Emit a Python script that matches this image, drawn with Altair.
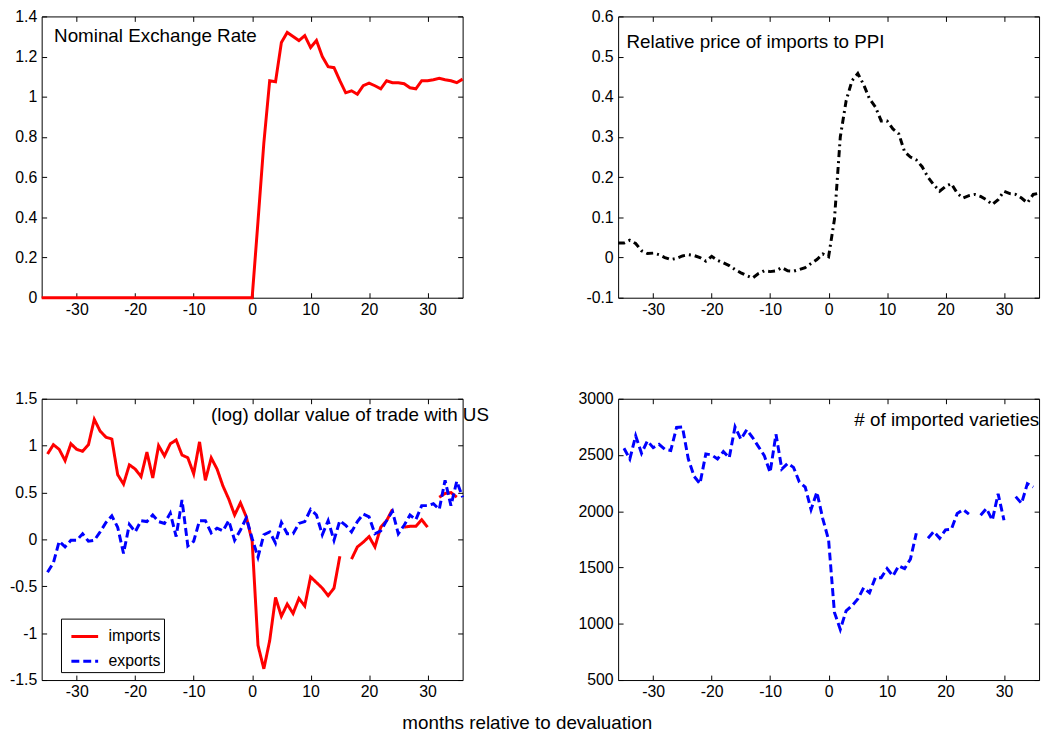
import altair as alt
import pandas as pd

FONT = "Liberation Sans"
W, H = 425, 284
ROW_GAP, COL_GAP = 102, 157

months = list(range(-36, 37))

nominal_rate = [
    0.0, 0.0, 0.0, 0.0, 0.0, 0.0, 0.0, 0.0, 0.0, 0.0, 0.0, 0.0, 0.0, 0.0, 0.0, 0.0,
    0.0, 0.0, 0.0, 0.0, 0.0, 0.0, 0.0, 0.0, 0.0, 0.0, 0.0, 0.0, 0.0, 0.0, 0.0, 0.0,
    0.0, 0.0, 0.0, 0.0, 0.0,
    0.38, 0.77, 1.08, 1.075, 1.27, 1.32, 1.30, 1.28, 1.305, 1.245, 1.28, 1.20, 1.15,
    1.145, 1.08, 1.02, 1.03, 1.013, 1.055, 1.068, 1.055, 1.04, 1.08, 1.07, 1.07,
    1.065, 1.045, 1.04, 1.08, 1.08, 1.085, 1.092, 1.085, 1.08, 1.07, 1.088,
]

rel_price = [
    0.036, 0.036, 0.043, 0.035, 0.017, 0.010, 0.011, 0.007, 0.000, -0.005, -0.002,
    0.004, 0.007, 0.005, 0.000, -0.009, 0.003, -0.007, -0.013, -0.020, -0.030,
    -0.038, -0.045, -0.051, -0.040, -0.033, -0.035, -0.033, -0.025, -0.033, -0.034,
    -0.030, -0.025, -0.015, -0.005, 0.009, 0.002,
    0.095, 0.30, 0.39, 0.44, 0.458, 0.43, 0.395, 0.375, 0.34, 0.34, 0.32, 0.308,
    0.263, 0.25, 0.243, 0.226, 0.20, 0.181, 0.165, 0.177, 0.184, 0.16, 0.148, 0.154,
    0.157, 0.152, 0.144, 0.132, 0.144, 0.165, 0.159, 0.157, 0.148, 0.136, 0.157, 0.16,
]

imports = [
    None, 0.91, 1.01, 0.96, 0.84, 1.02, 0.96, 0.94, 1.01, 1.28, 1.155, 1.09, 1.07,
    0.69, 0.59, 0.795, 0.75, 0.67, 0.93, 0.655, 1.0, 0.89, 1.02, 1.06, 0.90, 0.87,
    0.70, 1.04, 0.63, 0.87, 0.75, 0.57, 0.43, 0.26, 0.39, 0.24, -0.02,
    -1.13, -1.38, -1.08, -0.62, -0.82, -0.69, -0.79, -0.63, -0.71, -0.40, -0.46,
    -0.52, -0.60, -0.52, -0.18, None, -0.21, -0.08, -0.03, 0.03, -0.08, 0.13, 0.20,
    0.32, None, 0.13, 0.14, 0.14, 0.21, 0.13, None, 0.45, 0.49, 0.50, 0.45, None,
]

exports = [
    None, -0.35, -0.25, -0.02, -0.08, -0.01, -0.01, 0.06, -0.02, -0.01, 0.08, 0.18,
    0.25, 0.13, -0.15, 0.16, 0.08, 0.20, 0.19, 0.26, 0.19, 0.17, 0.28, 0.03, 0.42,
    -0.07, -0.02, 0.20, 0.20, 0.07, 0.12, 0.09, 0.20, -0.01, 0.10, 0.23, 0.01,
    -0.19, 0.05, 0.08, -0.04, 0.18, 0.06, 0.06, 0.17, 0.19, 0.32, 0.26, 0.05, 0.20,
    -0.01, 0.20, 0.15, 0.08, 0.19, 0.27, 0.24, 0.06, 0.09, 0.20, 0.30, 0.06, 0.15,
    0.26, 0.21, 0.36, 0.36, 0.38, 0.32, 0.63, 0.36, 0.62, 0.45,
]

varieties = [
    None, 2560, 2465, 2670, 2515, 2625, 2565, 2595, 2550, 2540, 2745, 2750, 2465,
    2310, 2245, 2510, 2500, 2465, 2530, 2475, 2750, 2640, 2725, 2655, 2575, 2495,
    2345, 2685, 2375, 2425, 2390, 2260, 2215, 2015, 2170, 1935, 1745,
    1100, 950, 1115, 1160, 1220, 1320, 1275, 1410, 1410, 1490, 1425, 1515, 1490,
    1575, 1805, None, 1760, 1820, 1760, 1835, 1840, 1980, 2015, 1975, None, 1965,
    2025, 1920, 2155, 1920, None, 2130, 2070, 2245, 2215, None,
]

x_ticks = [-30, -20, -10, 0, 10, 20, 30]
y1_ticks = [0, 0.2, 0.4, 0.6, 0.8, 1, 1.2, 1.4]
y2_ticks = [-0.1, 0, 0.1, 0.2, 0.3, 0.4, 0.5, 0.6]
y3_ticks = [-1.5, -1, -0.5, 0, 0.5, 1, 1.5]
y4_ticks = [500, 1000, 1500, 2000, 2500, 3000]

series_names = ["imports", "exports"]
series_colors = ["#ff0000", "#0000ff"]


def to_frame(values, series):
    rows, seg, gap = [], 0, False
    for m, v in zip(months, values):
        if v is None:
            gap = True
            continue
        if gap:
            seg += 1
            gap = False
        rows.append({"month": m, "value": v, "series": series, "seg": f"{series}{seg}"})
    return pd.DataFrame(rows)


def make_axis(orient, values, labels):
    kw = dict(
        orient=orient, values=values, labels=labels, domain=False, ticks=True,
        tickSize=5, tickColor="black", tickWidth=1, offset=-5, grid=False,
        title=None, labelOverlap=False, minExtent=0,
    )
    if labels:
        kw.update(
            labelExpr="'' + datum.value", labelFont=FONT, labelFontSize=16,
            labelColor="black", labelPadding=4 if orient == "bottom" else 5,
        )
    return alt.Axis(**kw)


def enc_xy(ydomain, yticks, main=True):
    if main:
        ax, ay = make_axis("bottom", x_ticks, True), make_axis("left", yticks, True)
    else:
        ax, ay = make_axis("top", x_ticks, False), make_axis("right", yticks, False)
    return dict(
        x=alt.X("month:Q", scale=alt.Scale(domain=[-36, 36], nice=False, zero=False), axis=ax),
        y=alt.Y("value:Q", scale=alt.Scale(domain=ydomain, nice=False, zero=False), axis=ay),
    )


def label_layer(text, tx, ty):
    return alt.Chart(pd.DataFrame({"t": [text]})).mark_text(
        align="left", baseline="alphabetic", font=FONT, fontSize=19, color="black"
    ).encode(x=alt.value(tx), y=alt.value(ty), text="t:N")


def panel(line, df, ydomain, yticks, text, tx, ty):
    ghost = alt.Chart(df).mark_line(strokeOpacity=0).encode(**enc_xy(ydomain, yticks, False))
    return alt.layer(line, ghost, label_layer(text, tx, ty)).resolve_axis(
        x="independent", y="independent"
    ).properties(width=W, height=H)


# Panel 1
df1 = to_frame(nominal_rate, "nominal")
line1 = alt.Chart(df1).mark_line(color="#ff0000", strokeWidth=3).encode(
    **enc_xy([0, 1.4], y1_ticks), detail="seg:N"
)
p1 = panel(line1, df1, [0, 1.4], y1_ticks, "Nominal Exchange Rate", 12.5, 25.5)

# Panel 2
df2 = to_frame(rel_price, "relprice")
line2 = alt.Chart(df2).mark_line(color="black", strokeWidth=3, strokeDash=[7, 4, 2, 4]).encode(
    **enc_xy([-0.1, 0.6], y2_ticks), detail="seg:N"
)
p2 = panel(line2, df2, [-0.1, 0.6], y2_ticks, "Relative price of imports to PPI", 8.5, 32)

# Panel 3 (legend is placed relative to the whole chart: bottom-left panel origin)
df3 = pd.concat([to_frame(imports, "imports"), to_frame(exports, "exports")], ignore_index=True)
leg = alt.Legend(
    orient="none", legendX=19.5, legendY=H + ROW_GAP + 222, title=None, strokeColor="black",
    fillColor="white", padding=3, symbolType="stroke", symbolSize=729,
    symbolStrokeWidth=3, symbolOffset=6, labelFont=FONT, labelFontSize=16,
    labelColor="black", labelOffset=9, rowPadding=2,
)
line3 = alt.Chart(df3).mark_line(strokeWidth=3).encode(
    **enc_xy([-1.5, 1.5], y3_ticks),
    color=alt.Color("series:N", scale=alt.Scale(domain=series_names, range=series_colors), legend=leg),
    strokeDash=alt.StrokeDash("series:N", scale=alt.Scale(domain=series_names, range=[[1, 0], [8, 4]]), legend=leg),
    detail="seg:N",
)
p3 = panel(line3, df3, [-1.5, 1.5], y3_ticks, "(log) dollar value of trade with US", 171, 22)

# Panel 4
df4 = to_frame(varieties, "varieties")
line4 = alt.Chart(df4).mark_line(color="#0000ff", strokeWidth=3, strokeDash=[8, 4]).encode(
    **enc_xy([500, 3000], y4_ticks), detail="seg:N"
)
p4 = panel(line4, df4, [500, 3000], y4_ticks, "# of imported varieties", 238.5, 28)

chart = alt.concat(
    p1, p2, p3, p4, columns=2, spacing={"row": ROW_GAP, "column": COL_GAP}, bounds="flush"
).properties(
    padding={"left": 0, "top": -4, "right": 0, "bottom": 0},
    title=alt.TitleParams(
        "months relative to devaluation", orient="bottom", anchor="middle",
        font=FONT, fontSize=19, fontWeight="normal", color="black", offset=14,
    ),
).configure_view(stroke="black", strokeWidth=1)

chart.save("out.html", embed_options={"renderer": "svg", "actions": False})
